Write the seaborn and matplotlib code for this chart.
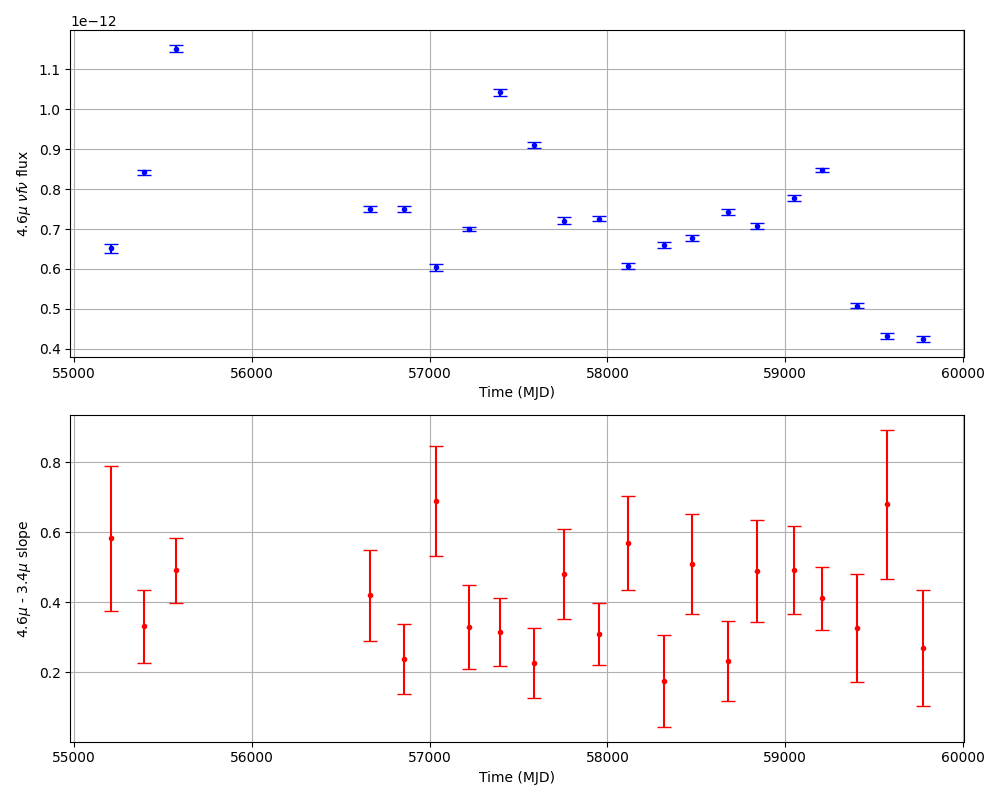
import numpy as np
import matplotlib
matplotlib.use("Agg")
import matplotlib.pyplot as plt
import seaborn as sns

# epochs (MJD)
mjd = np.array([55208, 55394, 55574, 56665, 56856, 57036, 57222, 57396, 57587, 57756,
                57953, 58116, 58318, 58476, 58678, 58841, 59050, 59207, 59404, 59573, 59775])

# 4.6 micron nu f nu flux and errors
flux = np.array([0.652, 0.842, 1.152, 0.750, 0.750, 0.604, 0.700, 1.043, 0.910, 0.721,
                 0.726, 0.608, 0.660, 0.678, 0.742, 0.708, 0.777, 0.848, 0.508, 0.432, 0.424]) * 1e-12
flux_err = np.array([0.011, 0.007, 0.009, 0.008, 0.007, 0.008, 0.006, 0.009, 0.007, 0.008,
                     0.006, 0.007, 0.008, 0.008, 0.007, 0.008, 0.008, 0.006, 0.007, 0.007, 0.007]) * 1e-12

# 4.6 - 3.4 micron slope and errors
slope = np.array([0.583, 0.331, 0.491, 0.420, 0.237, 0.689, 0.329, 0.314, 0.226, 0.480,
                  0.309, 0.569, 0.174, 0.509, 0.231, 0.489, 0.491, 0.411, 0.326, 0.680, 0.269])
slope_err = np.array([0.207, 0.104, 0.092, 0.130, 0.101, 0.157, 0.120, 0.097, 0.100, 0.129,
                      0.090, 0.134, 0.131, 0.143, 0.115, 0.147, 0.126, 0.090, 0.155, 0.213, 0.167])

fig, (ax1, ax2) = plt.subplots(2, 1, figsize=(10, 8))

ax1.errorbar(mjd, flux, yerr=flux_err, fmt='none', ecolor='blue', capsize=5)
sns.scatterplot(x=mjd, y=flux, ax=ax1, marker='.', s=36, color='blue',
                edgecolor='blue', linewidth=1, zorder=3)
ax1.set_xlabel('Time (MJD)')
ax1.set_ylabel(r'4.6$\mu$ $\nu f \nu$ flux')
ax1.grid(True)

ax2.errorbar(mjd, slope, yerr=slope_err, fmt='none', ecolor='red', capsize=5)
sns.scatterplot(x=mjd, y=slope, ax=ax2, marker='.', s=36, color='red',
                edgecolor='red', linewidth=1, zorder=3)
ax2.set_xlabel('Time (MJD)')
ax2.set_ylabel(r'4.6$\mu$ - 3.4$\mu$ slope')
ax2.grid(True)

plt.tight_layout()
plt.savefig('out.png', dpi=100)
